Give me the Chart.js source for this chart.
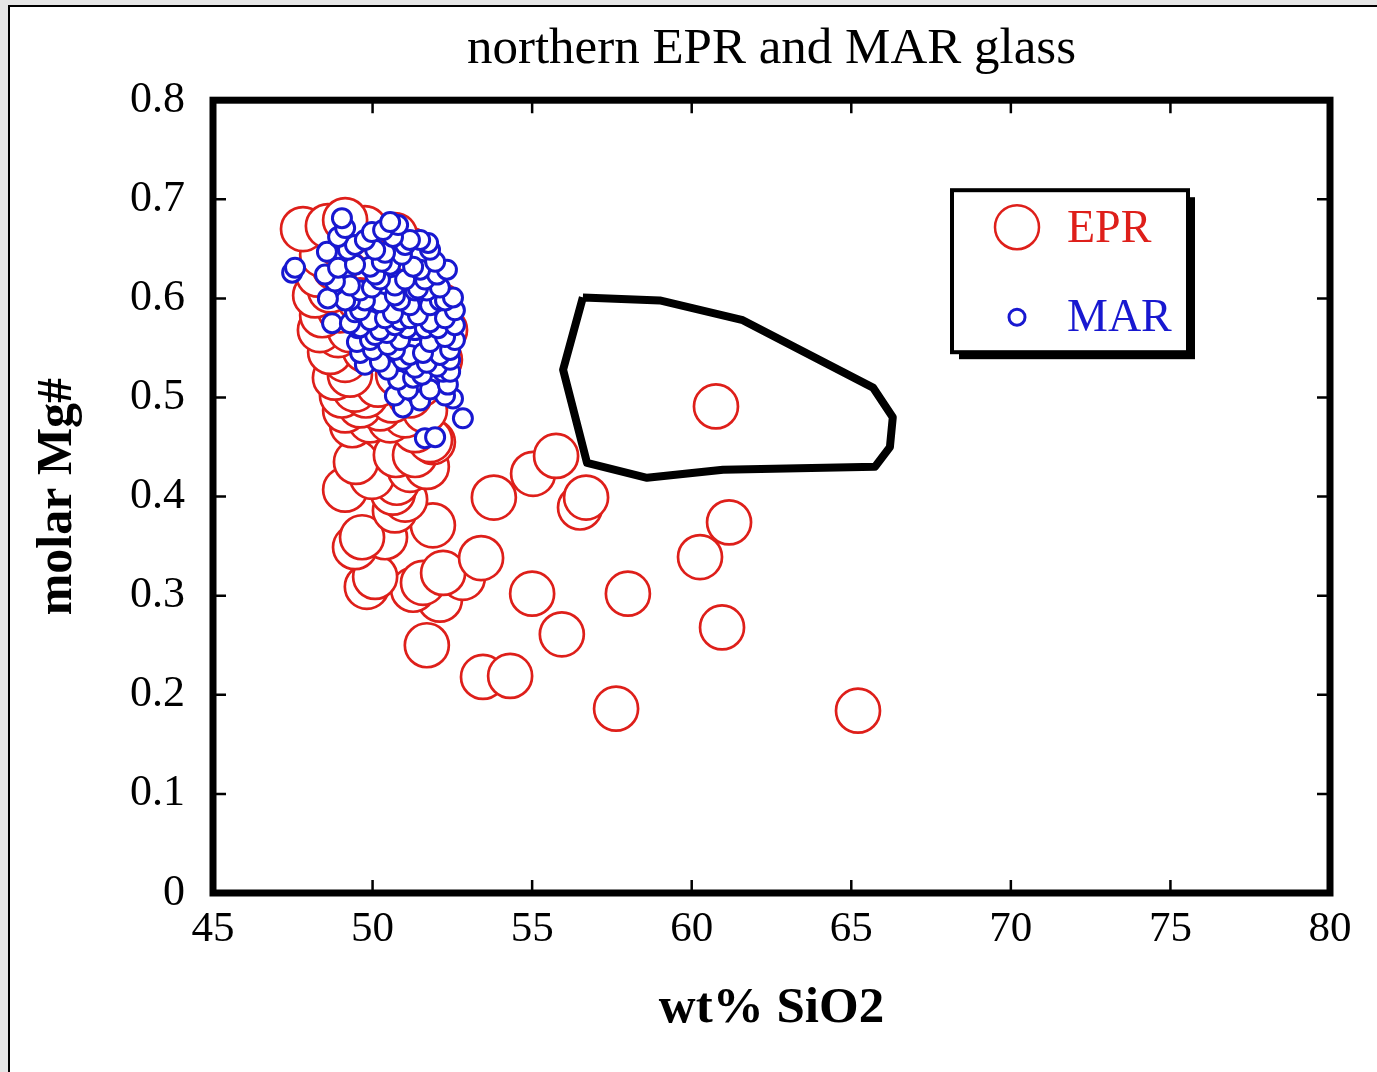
<!DOCTYPE html>
<html><head><meta charset="utf-8">
<script src="https://cdn.jsdelivr.net/npm/chart.js@4.4.0/dist/chart.umd.min.js"></script>
<style>
html,body{margin:0;padding:0;background:#e6e6e6;width:1377px;height:1072px;overflow:hidden;}
#frame{position:absolute;left:8px;top:5px;width:1400px;height:1100px;background:#fff;border:2px solid #000;box-sizing:border-box;}
#wrap{position:absolute;left:0;top:0;width:1377px;height:1072px;}
</style></head><body>
<div id="frame"></div>
<div id="wrap"><canvas id="c" width="1377" height="1072"></canvas></div>
<script>
const chartTitle = 'northern EPR and MAR glass';
const xTitle = 'wt% SiO2';
const yTitle = 'molar Mg#';
const xTicks = [45, 50, 55, 60, 65, 70, 75, 80];
const yTicks = [0, 0.1, 0.2, 0.3, 0.4, 0.5, 0.6, 0.7, 0.8];

const eprSiO2 = [
 47.82,48.60,49.14,49.36,49.76,48.98,48.42,48.29,48.82,48.20,48.67,48.42,48.98,48.35,48.92,48.67,49.14,48.82,49.29,49.04,
 49.45,49.14,49.61,49.36,49.92,49.79,50.23,50.17,50.61,50.55,51.02,51.17,50.80,51.33,51.64,51.80,51.49,52.11,52.27,52.11,
 50.70,51.17,50.08,49.61,50.23,50.86,51.49,49.76,49.29,50.55,
 50.73,49.48,49.98,49.14,50.76,50.64,51.70,51.89,51.17,51.02,51.89,50.39,49.67,49.45,50.08,49.82,52.21,51.58,51.27,52.11,
 52.83,51.70,50.70,51.33,
 60.76,55.75,55.03,53.80,56.50,56.69,61.17,60.26,53.40,58.00,55.00,55.93,60.95,53.46,54.31,57.63,65.21
];
const eprMg = [
 0.670,0.673,0.679,0.667,0.671,0.654,0.644,0.624,0.631,0.603,0.608,0.583,0.588,0.568,0.563,0.546,0.538,0.520,0.523,0.502,
 0.508,0.487,0.492,0.472,0.477,0.502,0.489,0.513,0.497,0.477,0.482,0.502,0.523,0.467,0.487,0.457,0.513,0.538,0.568,0.593,
 0.664,0.649,0.659,0.598,0.578,0.558,0.548,0.548,0.568,0.598,
 0.442,0.435,0.420,0.407,0.414,0.404,0.430,0.455,0.427,0.397,0.371,0.359,0.359,0.349,0.319,0.309,0.323,0.313,0.306,0.296,
 0.318,0.250,0.386,0.442,
 0.491,0.441,0.423,0.399,0.389,0.399,0.374,0.339,0.338,0.302,0.302,0.261,0.268,0.218,0.219,0.186,0.184
];

const marSiO2 = [
 47.48,47.57,49.04,49.14,48.92,48.57,49.23,48.92,49.29,49.98,48.60,48.73,49.54,49.29,50.55,50.80,50.33,50.39,50.92,50.64,
 49.92,51.49,51.74,51.80,51.27,52.02,52.33,51.42,52.11,52.52,51.80,52.27,51.58,52.21,52.43,51.08,50.64,50.23,49.61,50.45,
 50.01,49.61,49.51,50.48,50.95,50.48,50.80,51.11,50.95,51.70,51.55,52.02,52.52,52.83,51.64,51.96,51.17,51.80,49.92,51.17,
 50.29,51.70,52.11,49.76,50.70,51.02,49.45,50.86,52.27,51.33,50.70,50.23,49.61,52.43,52.11,51.42,50.39,50.08,50.70,51.33,
 50.86,51.80,52.27,49.29,49.76,51.17,51.49,50.08,52.36,52.43,
 48.82,49.61,50.08,50.55,50.86,51.33,51.64,51.96,51.02,49.98,49.45,49.14,49.45,50.23,50.70,51.17,51.64,52.05,52.58,52.58,
 49.92,49.76,50.23,50.70,51.27,51.80,52.27,51.49,52.58,48.51
];
const marMg = [
 0.626,0.631,0.681,0.671,0.662,0.647,0.649,0.631,0.613,0.611,0.600,0.575,0.570,0.575,0.677,0.674,0.669,0.646,0.644,0.662,
 0.632,0.659,0.656,0.649,0.632,0.624,0.629,0.610,0.598,0.601,0.576,0.561,0.545,0.526,0.526,0.570,0.585,0.596,0.571,0.565,
 0.548,0.545,0.556,0.553,0.538,0.528,0.518,0.508,0.490,0.535,0.523,0.531,0.499,0.479,0.459,0.460,0.543,0.556,0.578,0.593,
 0.637,0.608,0.611,0.598,0.613,0.619,0.634,0.578,0.580,0.568,0.603,0.619,0.588,0.548,0.543,0.583,0.580,0.563,0.548,0.530,
 0.558,0.593,0.598,0.598,0.659,0.659,0.629,0.649,0.513,0.538,
 0.617,0.608,0.624,0.634,0.598,0.608,0.619,0.637,0.654,0.667,0.654,0.598,0.586,0.568,0.573,0.580,0.570,0.570,0.573,0.558,
 0.558,0.533,0.536,0.502,0.520,0.508,0.502,0.497,0.588,0.624
];

const fieldSiO2 = [56.59,59.00,61.60,65.68,66.30,66.21,65.74,60.98,58.60,56.72,55.97,56.59];
const fieldMg   = [0.601,0.598,0.578,0.510,0.480,0.450,0.430,0.427,0.419,0.434,0.528,0.601];

// points are drawn lowest Mg# first so higher ones overlap them (as in the original)
const toPts = (xs, ys) => xs.map((v, i) => ({x: v, y: ys[i]})).sort((p, q) => p.y - q.y);
const SERIF = "'Liberation Serif','Times New Roman','DejaVu Serif',serif";
const RED = '#de1f1a';
const BLUE = '#1818d0';

const framePlugin = {
  id: 'frameTicks',
  afterDatasetsDraw(chart) {
    const {ctx, chartArea: a, scales: {x, y}} = chart;
    ctx.save();
    ctx.strokeStyle = '#000';
    ctx.lineWidth = 2.5;
    const tl = 13;
    ctx.beginPath();
    xTicks.forEach(v => {
      const px = x.getPixelForValue(v);
      ctx.moveTo(px, a.bottom); ctx.lineTo(px, a.bottom - tl);
      ctx.moveTo(px, a.top); ctx.lineTo(px, a.top + tl);
    });
    yTicks.forEach(v => {
      const py = y.getPixelForValue(v);
      ctx.moveTo(a.left, py); ctx.lineTo(a.left + tl, py);
      ctx.moveTo(a.right, py); ctx.lineTo(a.right - tl, py);
    });
    ctx.stroke();
    ctx.lineWidth = 7;
    ctx.strokeRect(a.left, a.top, a.right - a.left, a.bottom - a.top);

    // legend box
    const lx = a.left + 739, ly = a.top + 90, lw = 236, lh = 162;
    ctx.fillStyle = '#000';
    ctx.fillRect(lx + 7, ly + 7, lw, lh);
    ctx.fillStyle = '#fff';
    ctx.fillRect(lx, ly, lw, lh);
    ctx.lineWidth = 4;
    ctx.strokeRect(lx, ly, lw, lh);
    ctx.lineWidth = 2.5;
    ctx.strokeStyle = RED;
    ctx.beginPath(); ctx.arc(lx + 65, ly + 37, 22, 0, Math.PI * 2); ctx.stroke();
    ctx.lineWidth = 3;
    ctx.strokeStyle = BLUE;
    ctx.beginPath(); ctx.arc(lx + 65, ly + 127, 8, 0, Math.PI * 2); ctx.stroke();
    ctx.font = '46px ' + SERIF;
    ctx.textBaseline = 'alphabetic';
    ctx.textAlign = 'left';
    ctx.fillStyle = RED;
    ctx.fillText('EPR', lx + 115, ly + 52);
    ctx.fillStyle = BLUE;
    ctx.fillText('MAR', lx + 115, ly + 141);
    ctx.restore();
  }
};

new Chart(document.getElementById('c'), {
  type: 'scatter',
  data: {
    datasets: [
      {label: 'MAR', data: toPts(marSiO2, marMg), order: 0,
       pointRadius: 9.5, borderWidth: 3, pointBorderColor: BLUE, pointBackgroundColor: '#fff', borderColor: BLUE},
      {label: 'field', type: 'line', data: fieldSiO2.map((v, i) => ({x: v, y: fieldMg[i]})), order: 1, showLine: true,
       borderColor: '#000', borderWidth: 8, pointRadius: 0, fill: false, tension: 0, borderJoinStyle: 'round'},
      {label: 'EPR', data: toPts(eprSiO2, eprMg), order: 2,
       pointRadius: 22, borderWidth: 2.7, pointBorderColor: RED, pointBackgroundColor: '#fff', borderColor: RED}
    ]
  },
  options: {
    responsive: false,
    devicePixelRatio: 1,
    animation: false,
    events: [],
    layout: {padding: {left: 0, right: 47, top: 0, bottom: 0}},
    plugins: {
      legend: {display: false},
      tooltip: {enabled: false},
      title: {display: true, text: chartTitle, fullSize: false, color: '#000',
              font: {family: SERIF, size: 51, weight: 'normal'}, padding: {top: 19, bottom: 20}}
    },
    scales: {
      x: {
        type: 'linear', min: 45, max: 80,
        afterBuildTicks: s => { s.ticks = xTicks.map(v => ({value: v})); },
        afterFit: s => { s.height = 179; },
        grid: {display: false, drawTicks: false},
        border: {display: false},
        ticks: {color: '#000', font: {family: SERIF, size: 43}, padding: 11, maxRotation: 0, autoSkip: false,
                callback: v => String(v)},
        title: {display: true, text: xTitle, color: '#000', font: {family: SERIF, size: 51, weight: 'bold'},
                padding: {top: 0, bottom: 33}}
      },
      y: {
        type: 'linear', min: 0, max: 0.8,
        afterBuildTicks: s => { s.ticks = yTicks.map(v => ({value: v})); },
        afterFit: s => { s.width = 213; },
        grid: {display: false, drawTicks: false},
        border: {display: false},
        ticks: {color: '#000', font: {family: SERIF, size: 44}, padding: 28, autoSkip: false,
                callback: v => (v === 0 ? '0' : v.toFixed(1))},
        title: {display: true, text: yTitle, color: '#000', font: {family: SERIF, size: 50, weight: 'bold'},
                padding: {top: 28, bottom: 0}}
      }
    }
  },
  plugins: [framePlugin]
});
</script>
</body></html>
